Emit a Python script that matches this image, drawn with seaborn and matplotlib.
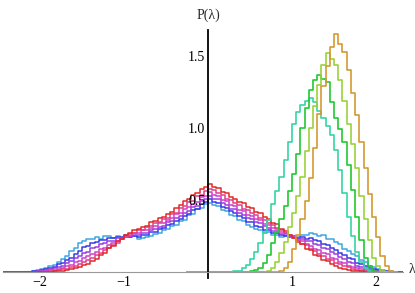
import numpy as np
import pandas as pd
import matplotlib
matplotlib.use("Agg")
import matplotlib.pyplot as plt
from matplotlib.ticker import MultipleLocator
import seaborn as sns

# histogram bin edges (0.05 wide)
broad_edges = np.round(np.arange(-2.5, 2.5001, 0.05), 3)
narrow_edges = np.round(np.arange(-0.25, 2.2501, 0.05), 3)

# broad, two-shouldered distributions, bins -2.5 .. 2.5
cyan = [0, 0, 0, 0, 0, 0, 0, 0.003, 0.006, 0.012,
        0.02, 0.03, 0.038, 0.05, 0.068, 0.088, 0.112, 0.145, 0.168, 0.198,
        0.212, 0.228, 0.226, 0.242, 0.232, 0.248, 0.252, 0.238, 0.247, 0.236,
        0.252, 0.24, 0.248, 0.226, 0.234, 0.244, 0.252, 0.265, 0.268, 0.288,
        0.296, 0.318, 0.328, 0.356, 0.362, 0.392, 0.405, 0.436, 0.446, 0.474,
        0.482, 0.462, 0.455, 0.43, 0.424, 0.396, 0.388, 0.36, 0.352, 0.326,
        0.312, 0.296, 0.288, 0.27, 0.274, 0.256, 0.258, 0.246, 0.25, 0.242,
        0.248, 0.246, 0.258, 0.256, 0.268, 0.262, 0.25, 0.254, 0.232, 0.228,
        0.208, 0.194, 0.162, 0.148, 0.122, 0.108, 0.082, 0.068, 0.044, 0.034,
        0.022, 0.014, 0.008, 0.004, 0.002, 0, 0, 0, 0, 0]
blue = [0, 0, 0, 0, 0, 0, 0, 0.002, 0.004, 0.008,
        0.012, 0.02, 0.03, 0.034, 0.052, 0.06, 0.082, 0.098, 0.128, 0.148,
        0.172, 0.182, 0.204, 0.206, 0.224, 0.22, 0.238, 0.236, 0.244, 0.24,
        0.254, 0.242, 0.252, 0.24, 0.254, 0.256, 0.274, 0.276, 0.298, 0.302,
        0.324, 0.332, 0.354, 0.366, 0.39, 0.404, 0.43, 0.44, 0.47, 0.486,
        0.504, 0.486, 0.478, 0.45, 0.444, 0.42, 0.41, 0.386, 0.374, 0.35,
        0.344, 0.32, 0.314, 0.29, 0.288, 0.27, 0.268, 0.256, 0.252, 0.242,
        0.244, 0.236, 0.244, 0.232, 0.234, 0.22, 0.214, 0.196, 0.188, 0.166,
        0.152, 0.13, 0.118, 0.096, 0.088, 0.062, 0.052, 0.038, 0.03, 0.018,
        0.012, 0.007, 0.004, 0.002, 0, 0, 0, 0, 0, 0]
purple = [0, 0, 0, 0, 0, 0, 0, 0, 0.002, 0.004,
          0.008, 0.012, 0.02, 0.024, 0.036, 0.044, 0.06, 0.073, 0.094, 0.108,
          0.134, 0.142, 0.164, 0.172, 0.194, 0.198, 0.214, 0.218, 0.234, 0.238,
          0.248, 0.248, 0.258, 0.256, 0.268, 0.272, 0.29, 0.296, 0.314, 0.322,
          0.344, 0.352, 0.374, 0.386, 0.41, 0.426, 0.45, 0.46, 0.494, 0.506,
          0.528, 0.51, 0.504, 0.476, 0.468, 0.44, 0.434, 0.406, 0.398, 0.376,
          0.368, 0.346, 0.338, 0.316, 0.308, 0.286, 0.282, 0.266, 0.262, 0.246,
          0.248, 0.236, 0.232, 0.216, 0.212, 0.196, 0.188, 0.166, 0.158, 0.136,
          0.122, 0.102, 0.092, 0.072, 0.062, 0.044, 0.036, 0.024, 0.016, 0.01,
          0.006, 0.003, 0.001, 0, 0, 0, 0, 0, 0, 0]
magenta = [0, 0, 0, 0, 0, 0, 0, 0, 0, 0.002,
           0.004, 0.006, 0.011, 0.014, 0.023, 0.029, 0.042, 0.05, 0.067, 0.078,
           0.098, 0.108, 0.128, 0.138, 0.158, 0.168, 0.188, 0.198, 0.218, 0.228,
           0.244, 0.252, 0.268, 0.272, 0.288, 0.292, 0.308, 0.316, 0.338, 0.342,
           0.364, 0.376, 0.4, 0.41, 0.44, 0.45, 0.474, 0.486, 0.52, 0.53,
           0.554, 0.536, 0.528, 0.5, 0.494, 0.466, 0.458, 0.43, 0.424, 0.396,
           0.388, 0.366, 0.358, 0.336, 0.328, 0.306, 0.298, 0.276, 0.268, 0.246,
           0.242, 0.222, 0.212, 0.192, 0.182, 0.162, 0.152, 0.132, 0.122, 0.098,
           0.087, 0.068, 0.06, 0.044, 0.035, 0.024, 0.019, 0.011, 0.007, 0.004,
           0.002, 0, 0, 0, 0, 0, 0, 0, 0, 0]
pink = [0, 0, 0, 0, 0, 0, 0, 0, 0, 0,
        0.002, 0.003, 0.005, 0.008, 0.012, 0.018, 0.023, 0.033, 0.041, 0.056,
        0.066, 0.084, 0.096, 0.118, 0.13, 0.153, 0.166, 0.188, 0.203, 0.228,
        0.243, 0.263, 0.273, 0.288, 0.293, 0.313, 0.318, 0.338, 0.348, 0.368,
        0.378, 0.404, 0.412, 0.444, 0.456, 0.484, 0.492, 0.524, 0.536, 0.564,
        0.576, 0.568, 0.546, 0.534, 0.51, 0.498, 0.476, 0.464, 0.44, 0.428,
        0.406, 0.398, 0.376, 0.364, 0.342, 0.328, 0.306, 0.294, 0.272, 0.258,
        0.236, 0.224, 0.196, 0.184, 0.156, 0.148, 0.126, 0.113, 0.092, 0.082,
        0.063, 0.052, 0.038, 0.031, 0.021, 0.016, 0.009, 0.006, 0.003, 0.001,
        0, 0, 0, 0, 0, 0, 0, 0, 0, 0]
red = [0, 0, 0, 0, 0, 0, 0, 0, 0, 0,
       0, 0, 0.002, 0.004, 0.006, 0.01, 0.014, 0.02, 0.028, 0.035,
       0.046, 0.058, 0.077, 0.093, 0.118, 0.132, 0.163, 0.178, 0.213, 0.232,
       0.258, 0.272, 0.288, 0.298, 0.314, 0.322, 0.344, 0.352, 0.374, 0.382,
       0.404, 0.416, 0.446, 0.466, 0.496, 0.506, 0.532, 0.546, 0.576, 0.59,
       0.614, 0.592, 0.586, 0.556, 0.546, 0.52, 0.51, 0.486, 0.48, 0.45,
       0.444, 0.416, 0.41, 0.38, 0.37, 0.34, 0.33, 0.3, 0.284, 0.256,
       0.238, 0.206, 0.194, 0.161, 0.149, 0.121, 0.109, 0.082, 0.073, 0.052,
       0.042, 0.028, 0.023, 0.014, 0.01, 0.006, 0.004, 0.002, 0, 0,
       0, 0, 0, 0, 0, 0, 0, 0, 0, 0]

# narrow peaked distributions, bins -0.25 .. 2.25
teal = [0, 0, 0, 0, 0, 0, 0, 0, 0, 0,
        0.002, 0.005, 0.01, 0.03, 0.05, 0.09, 0.14, 0.2, 0.28, 0.36,
        0.47, 0.56, 0.66, 0.78, 0.9, 1.03, 1.11, 1.16, 1.19, 1.21,
        1.18, 1.12, 1.07, 1.01, 0.95, 0.85, 0.71, 0.55, 0.38, 0.25,
        0.14, 0.07, 0.025, 0.008, 0, 0, 0, 0, 0, 0]
green = [0, 0, 0, 0, 0, 0, 0, 0, 0, 0,
         0, 0, 0, 0, 0.002, 0.005, 0.012, 0.03, 0.065, 0.12,
         0.2, 0.28, 0.37, 0.46, 0.56, 0.68, 0.82, 1.0, 1.14, 1.26,
         1.33, 1.37, 1.34, 1.32, 1.18, 1.07, 0.99, 0.9, 0.74, 0.57,
         0.38, 0.22, 0.1, 0.04, 0.01, 0.002, 0, 0, 0, 0]
lime = [0, 0, 0, 0, 0, 0, 0, 0, 0, 0,
        0, 0, 0, 0, 0, 0, 0, 0, 0.003, 0.01,
        0.03, 0.07, 0.13, 0.21, 0.31, 0.41, 0.53, 0.66, 0.84, 1.0,
        1.15, 1.3, 1.44, 1.52, 1.48, 1.44, 1.33, 1.19, 1.03, 0.89,
        0.72, 0.53, 0.37, 0.22, 0.1, 0.04, 0.01, 0, 0, 0]
orange = [0, 0, 0, 0, 0, 0, 0, 0, 0, 0,
          0, 0, 0, 0, 0, 0, 0, 0, 0, 0,
          0, 0, 0.01, 0.03, 0.07, 0.16, 0.26, 0.37, 0.49, 0.65,
          0.86, 1.1, 1.29, 1.43, 1.56, 1.65, 1.58, 1.53, 1.4, 1.24,
          1.09, 0.9, 0.72, 0.54, 0.38, 0.24, 0.11, 0.04, 0.01, 0]

broad = [(cyan, "#3ea6e0"), (blue, "#3a3ae6"), (purple, "#9a3ee0"),
         (magenta, "#d040cc"), (pink, "#e0408c"), (red, "#e02a2a")]
narrow = [(teal, "#36d4a4"), (green, "#22c832"), (lime, "#9ad23c"),
          (orange, "#d49a30")]

sns.set_style("white")
plt.rcParams["font.family"] = "serif"
plt.rcParams["font.serif"] = ["Liberation Serif", "DejaVu Serif"]

fig = plt.figure(figsize=(4.15, 2.93), dpi=100)
ax = fig.add_axes([3 / 415, 15 / 293, 400 / 415, 248 / 293])

broad_mid = (broad_edges[:-1] + broad_edges[1:]) / 2
narrow_mid = (narrow_edges[:-1] + narrow_edges[1:]) / 2

for vals, c in broad:
    df = pd.DataFrame({"lam": broad_mid, "w": vals})
    sns.histplot(data=df, x="lam", weights="w", bins=list(broad_edges),
                 element="step", fill=False, color=c, lw=1.1, ax=ax)
for vals, c in narrow:
    df = pd.DataFrame({"lam": narrow_mid, "w": vals})
    sns.histplot(data=df, x="lam", weights="w", bins=list(narrow_edges),
                 element="step", fill=False, color=c, lw=1.2, ax=ax)

ax.set_xlim(-2.44, 2.32)
ax.set_ylim(-0.042, 1.68)
ax.set_xlabel("")
ax.set_ylabel("")

# axes through the origin, tick labels drawn over the curves
for s in ["top", "right"]:
    ax.spines[s].set_visible(False)
ax.spines["left"].set_position(("data", 0))
ax.spines["bottom"].set_position(("data", 0))
ax.spines["left"].set_color("black")
ax.spines["left"].set_linewidth(1.3)
ax.spines["bottom"].set_color("#999999")
ax.spines["bottom"].set_linewidth(0.8)
ax.set_axisbelow(False)

ax.set_xticks([-2, -1, 1, 2])
ax.set_xticklabels(["\u22122", "\u22121", "1", "2"])
ax.set_yticks([0.5, 1.0, 1.5])
ax.set_yticklabels(["0.5", "1.0", "1.5"])
ax.xaxis.set_minor_locator(MultipleLocator(0.2))
ax.yaxis.set_minor_locator(MultipleLocator(0.1))
ax.tick_params(which="major", direction="in", length=4, width=0.7,
               colors="#555555", labelcolor="black", labelsize=10, pad=3)
ax.tick_params(which="minor", direction="in", length=2.2, width=0.6,
               colors="#777777")
ax.tick_params(axis="y", pad=2)

ax.text(0, 1.78, "P(\u03bb)", ha="center", va="center", fontsize=10,
        clip_on=False)
ax.text(2.43, 0.02, "\u03bb", ha="center", va="center", fontsize=10,
        clip_on=False)

fig.savefig("out.png", dpi=100)
